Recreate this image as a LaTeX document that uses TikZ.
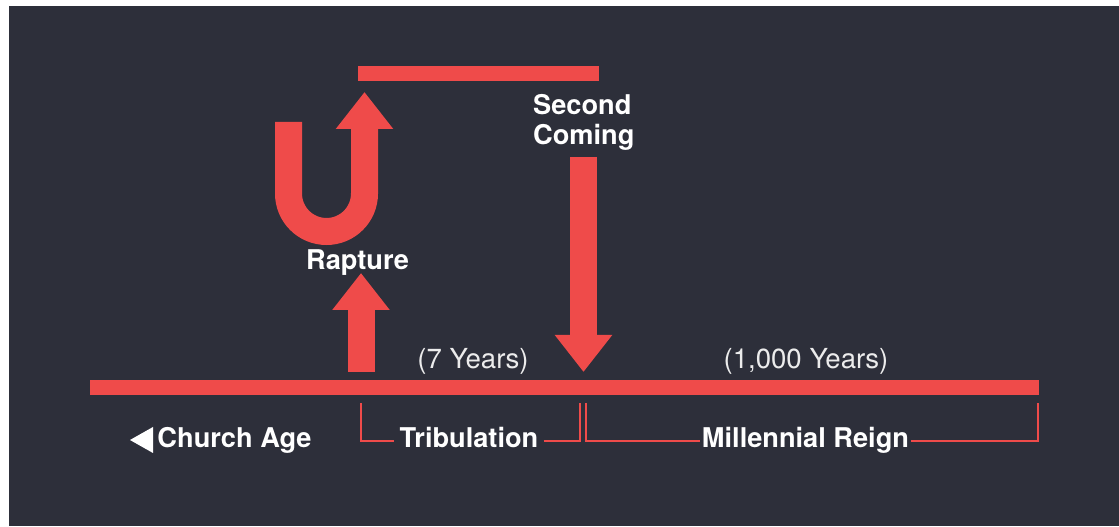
\documentclass[tikz,border=0pt]{standalone}
\usepackage{fontspec}
\setmainfont{TeX Gyre Heros}
\usepackage{xcolor}
\usetikzlibrary{arrows.meta}

\definecolor{slate}{RGB}{45,47,58}
\definecolor{signred}{RGB}{239,75,74}
\definecolor{paleword}{RGB}{236,236,236}

\tikzset{
  bar/.style={signred, line width=15pt},
  fatarrow/.style={signred, line width=27pt, -{Triangle[length=37pt,width=55pt]}},
  bracket/.style={signred, line width=2.5pt},
  eventtext/.style={text=white, font=\bfseries\fontsize{27.2}{30}\selectfont, text height=19.6pt, text depth=5.7pt},
  yearstext/.style={text=paleword, font=\fontsize{27.6}{30}\selectfont, text height=19.6pt, text depth=5.7pt}
}

\begin{document}
\begin{tikzpicture}[x=1pt, y=1pt]
  \useasboundingbox (0,0) rectangle (1119,527);
  \fill[white] (0,0) rectangle (1119,527);
  \fill[slate] (9,1) rectangle (1119,521);

  % timeline and the upper bar
  \draw[bar] (90,139) -- (1039,139);
  \draw[bar] (358,453.5) -- (599,453.5);

  % arrows
  \draw[fatarrow] (361,155) -- (361,254);
  \draw[fatarrow] (288.5,405) -- (288.5,333.5) arc (180:360:38) -- (364.5,435);
  \draw[fatarrow] (583.5,370) -- (583.5,155);

  % labels
  \node[eventtext, anchor=north west, inner sep=0pt, text height=, text depth=, align=left] (second) at (533,433) {Second\\Coming};
  \node[eventtext] (rapture) at (357.5,264) {Rapture};
  \node[yearstext] (seven) at (473,165) {(7 Years)};
  \node[yearstext] (thousand) at (806,165) {(1,000 Years)};

  \fill[white] (130,87) -- (153,100) -- (153,74) -- cycle;
  \node[eventtext] (church) at (234.5,86) {Church Age};
  \node[eventtext, inner sep=5pt] (trib) at (469,86) {Tribulation};
  \node[eventtext, inner sep=2pt] (mill) at (805.5,86) {Millennial Reign};

  % brackets under the timeline
  \draw[bracket] (361,124) |- (trib.west);
  \draw[bracket] (trib.east) -| (580,124);
  \draw[bracket] (586,124) |- (mill.west);
  \draw[bracket] (mill.east) -| (1038,124);
\end{tikzpicture}
\end{document}
